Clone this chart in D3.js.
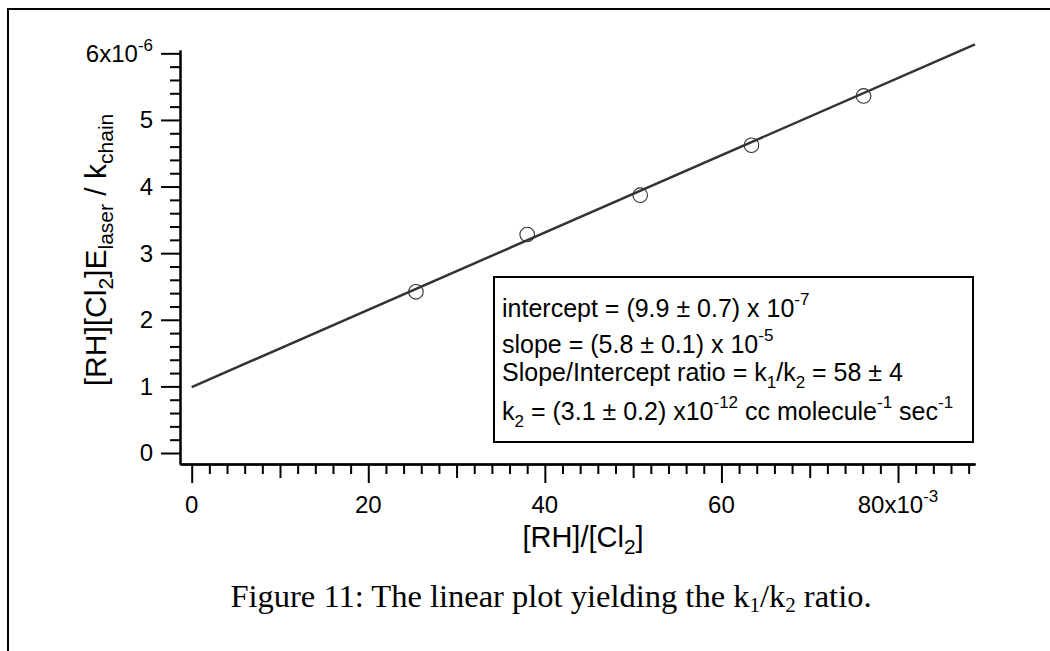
<!DOCTYPE html>
<html>
<head>
<meta charset="utf-8">
<script src="https://cdn.jsdelivr.net/npm/d3@7"></script>
<style>
  html, body { margin: 0; padding: 0; background: #fff; }
  svg { display: block; }
  text { font-family: "Liberation Sans", Arial, sans-serif; fill: #000; }
  .caption { font-family: "Liberation Serif", "Times New Roman", serif; }
</style>
</head>
<body>
<svg id="chart" width="1050" height="651"></svg>
<script>
// Measured points: [RH]/[Cl2] against [RH][Cl2]E_laser / k_chain
const ratioValues  = [25.4e-3, 38.0e-3, 50.8e-3, 63.4e-3, 76.1e-3];
const signalValues = [2.42e-6, 3.28e-6, 3.87e-6, 4.62e-6, 5.36e-6];

// Linear fit reported in the annotation box
const fitIntercept = 9.9e-7;
const fitSlope = 5.8e-5;

// Axis ticks
const xMajorTicks = [0, 20e-3, 40e-3, 60e-3, 80e-3];
const xMajorLabels = ["0", "20", "40", "60", "80x10"];
const xExponent = "-3";
const yMajorTicks = [0, 1e-6, 2e-6, 3e-6, 4e-6, 5e-6, 6e-6];
const yMajorLabels = ["0", "1", "2", "3", "4", "5", "6x10"];
const yExponent = "-6";

const svg = d3.select("#chart");

// Outer figure frame (top and left edges)
svg.append("path")
  .attr("d", "M8,651 L8,9 L1050,9")
  .attr("fill", "none").attr("stroke", "#000").attr("stroke-width", 2);

const plot = { left: 180, right: 975, top: 50, bottom: 464 };

const x = d3.scaleLinear().domain([-1.325e-3, 88.72e-3]).range([plot.left, plot.right]);
const y = d3.scaleLinear().domain([-0.165e-6, 6.05e-6]).range([plot.bottom, plot.top]);

// Tick sets
const xMinor = d3.range(0, 88.5e-3, 2e-3).filter(v => Math.round(v * 1e3) % 10 !== 0);
const xMedium = [10e-3, 30e-3, 50e-3, 70e-3];
const yMinor = d3.range(0, 6.01e-6, 0.2e-6).filter(v => Math.abs(v * 1e6 - Math.round(v * 1e6)) > 1e-6);

function styleAxis(g) {
  g.selectAll("path.domain").attr("stroke", "#000").attr("stroke-width", 2);
  g.selectAll(".tick line").attr("stroke", "#000").attr("stroke-width", 2);
  g.selectAll(".tick text").remove();
}

// Y axis: major + minor ticks
svg.append("g").attr("transform", `translate(${plot.left},0)`)
  .call(d3.axisLeft(y).tickValues(yMajorTicks).tickSize(19).tickSizeOuter(0))
  .call(styleAxis);
svg.append("g").attr("transform", `translate(${plot.left},0)`)
  .call(d3.axisLeft(y).tickValues(yMinor).tickSize(10).tickSizeOuter(0))
  .call(styleAxis);

// X axis: major, medium and minor ticks
svg.append("g").attr("transform", `translate(0,${plot.bottom})`)
  .call(d3.axisBottom(x).tickValues(xMajorTicks).tickSize(19).tickSizeOuter(0))
  .call(styleAxis);
svg.append("g").attr("transform", `translate(0,${plot.bottom})`)
  .call(d3.axisBottom(x).tickValues(xMedium).tickSize(14).tickSizeOuter(0))
  .call(styleAxis);
svg.append("g").attr("transform", `translate(0,${plot.bottom})`)
  .call(d3.axisBottom(x).tickValues(xMinor).tickSize(10).tickSizeOuter(0))
  .call(styleAxis);

// Tick labels, with the exponent on the last one
const tickFont = 24;
yMajorTicks.forEach((v, i) => {
  const t = svg.append("text")
    .attr("x", 153).attr("y", y(v) + tickFont * 0.35)
    .attr("text-anchor", "end").attr("font-size", tickFont);
  t.append("tspan").text(yMajorLabels[i]);
  if (i === yMajorTicks.length - 1) {
    t.append("tspan").attr("dy", -11).attr("font-size", 17).text(yExponent);
  }
});
xMajorTicks.forEach((v, i) => {
  const t = svg.append("text")
    .attr("x", x(v)).attr("y", 513)
    .attr("text-anchor", "middle").attr("font-size", tickFont);
  t.append("tspan").text(xMajorLabels[i]);
  if (i === xMajorTicks.length - 1) {
    t.append("tspan").attr("dy", -11).attr("font-size", 17).text(xExponent);
  }
});

// Axis titles
const xTitle = svg.append("text")
  .attr("x", 583).attr("y", 547)
  .attr("text-anchor", "middle").attr("font-size", 29);
xTitle.append("tspan").text("[RH]/[Cl");
xTitle.append("tspan").attr("dy", 7).attr("font-size", 21).text("2");
xTitle.append("tspan").attr("dy", -7).text("]");

const yTitle = svg.append("text")
  .attr("transform", "translate(106,250) rotate(-90)")
  .attr("text-anchor", "middle").attr("font-size", 30);
yTitle.append("tspan").text("[RH][Cl");
yTitle.append("tspan").attr("dy", 7).attr("font-size", 21).text("2");
yTitle.append("tspan").attr("dy", -7).text("]E");
yTitle.append("tspan").attr("dy", 7).attr("font-size", 21).text("laser");
yTitle.append("tspan").attr("dy", -7).text(" / k");
yTitle.append("tspan").attr("dy", 7).attr("font-size", 21).text("chain");

// Fitted line
const fitX = [0, x.domain()[1]];
svg.append("path")
  .datum(fitX.map(v => [v, fitIntercept + fitSlope * v]))
  .attr("d", d3.line().x(d => x(d[0])).y(d => y(d[1])))
  .attr("fill", "none").attr("stroke", "#333").attr("stroke-width", 2.5);

// Data points (open circles)
svg.append("g").selectAll("circle")
  .data(ratioValues.map((v, i) => [v, signalValues[i]]))
  .join("circle")
  .attr("cx", d => x(d[0])).attr("cy", d => y(d[1])).attr("r", 7.3)
  .attr("fill", "none").attr("stroke", "#333").attr("stroke-width", 1.1);

// Fit results box
svg.append("rect")
  .attr("x", 494).attr("y", 277).attr("width", 479).attr("height", 165)
  .attr("fill", "#fff").attr("stroke", "#000").attr("stroke-width", 2);

const boxFont = 25, sup = 17;
const l1 = svg.append("text").attr("x", 502).attr("y", 317).attr("font-size", boxFont);
l1.append("tspan").text("intercept = (9.9 \u00b1 0.7) x 10");
l1.append("tspan").attr("dy", -12).attr("font-size", sup).text("-7");

const l2 = svg.append("text").attr("x", 502).attr("y", 353).attr("font-size", boxFont);
l2.append("tspan").text("slope = (5.8 \u00b1 0.1) x 10");
l2.append("tspan").attr("dy", -12).attr("font-size", sup).text("-5");

const l3 = svg.append("text").attr("x", 502).attr("y", 381).attr("font-size", boxFont);
l3.append("tspan").text("Slope/Intercept ratio = k");
l3.append("tspan").attr("dy", 7).attr("font-size", sup).text("1");
l3.append("tspan").attr("dy", -7).text("/k");
l3.append("tspan").attr("dy", 7).attr("font-size", sup).text("2");
l3.append("tspan").attr("dy", -7).text(" = 58 \u00b1 4");

const l4 = svg.append("text").attr("x", 502).attr("y", 420).attr("font-size", boxFont);
l4.append("tspan").text("k");
l4.append("tspan").attr("dy", 7).attr("font-size", sup).text("2");
l4.append("tspan").attr("dy", -7).text(" = (3.1 \u00b1 0.2) x10");
l4.append("tspan").attr("dy", -12).attr("font-size", sup).text("-12");
l4.append("tspan").attr("dy", 12).text(" cc molecule");
l4.append("tspan").attr("dy", -12).attr("font-size", sup).text("-1");
l4.append("tspan").attr("dy", 12).text(" sec");
l4.append("tspan").attr("dy", -12).attr("font-size", sup).text("-1");

// Caption
const cap = svg.append("text").attr("class", "caption")
  .attr("x", 551).attr("y", 607).attr("text-anchor", "middle").attr("font-size", 32.5);
cap.append("tspan").text("Figure 11: The linear plot yielding the k");
cap.append("tspan").attr("dy", 5).attr("font-size", 21).text("1");
cap.append("tspan").attr("dy", -5).text("/k");
cap.append("tspan").attr("dy", 5).attr("font-size", 21).text("2");
cap.append("tspan").attr("dy", -5).text(" ratio.");
</script>
</body>
</html>
